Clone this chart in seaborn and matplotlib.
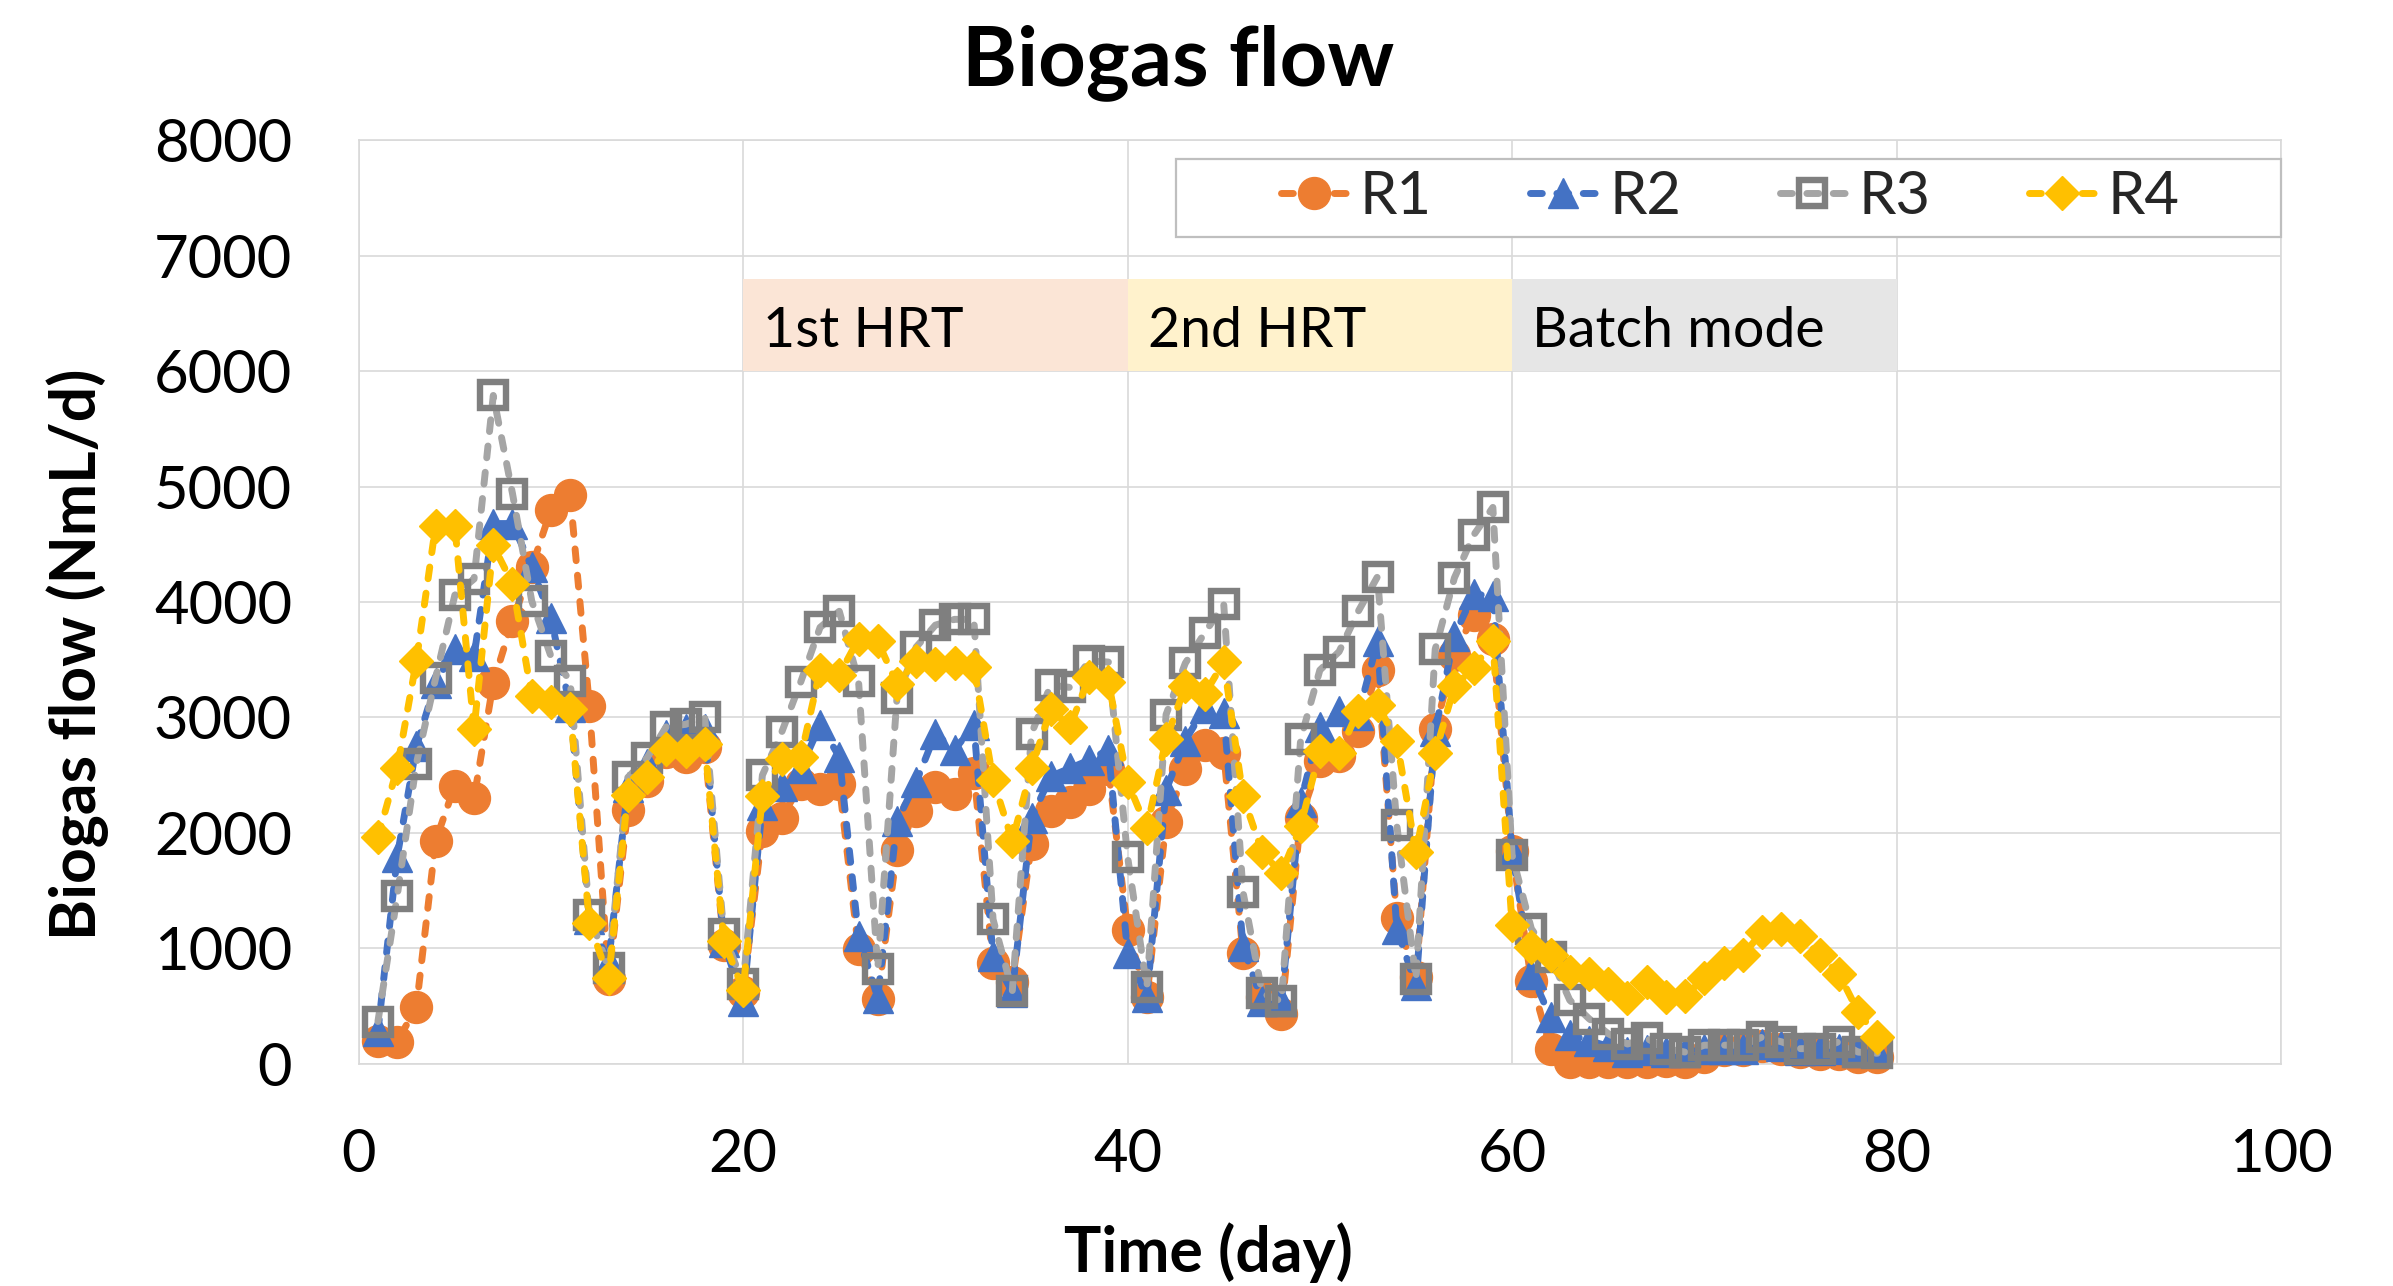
import numpy as np
import pandas as pd
import matplotlib
matplotlib.use("Agg")
import matplotlib.pyplot as plt
from matplotlib.patches import Rectangle
import seaborn as sns

# ---------------- data ----------------
days = list(range(1, 80))

r1 = [200, 190, 490, 1930, 2410, 2300, 3300, 3840, 4300, 4800,
      4930, 3100, 730, 2200, 2450, 2700, 2660, 2740, 1030, 620,
      2020, 2130, 2420, 2380, 2420, 990, 560, 1850, 2190, 2400,
      2340, 2520, 870, 710, 1900, 2190, 2270, 2380, 2550, 1160,
      575, 2090, 2550, 2760, 2690, 960, 575, 430, 2130, 2620,
      2670, 2880, 3410, 1260, 750, 2900, 3540, 3890, 3680, 1840,
      720, 130, 10, 10, 10, 10, 10, 20, 10, 60,
      120, 120, 150, 130, 100, 80, 80, 60, 60]

r2 = [280, 1790, 2750, 3300, 3590, 3530, 4680, 4680, 4300, 3860,
      3090, 1250, 880, 2400, 2600, 2850, 2900, 2900, 1050, 540,
      2240, 2410, 2560, 2935, 2660, 1110, 570, 2100, 2440, 2860,
      2720, 2935, 930, 620, 2130, 2490, 2560, 2630, 2720, 960,
      575, 2370, 2800, 3080, 3040, 1016, 540, 540, 2270, 2920,
      3060, 3025, 3660, 1170, 680, 2880, 3710, 4070, 4050, 1840,
      780, 400, 250, 200, 150, 100, 120, 100, 100, 130,
      130, 130, 170, 150, 120, 120, 130, 100, 100]

r3 = [365, 1450, 2600, 3340, 4060, 4200, 5790, 4940, 4010, 3530,
      3320, 1290, 825, 2480, 2650, 2920, 2940, 3000, 1120, 690,
      2500, 2870, 3310, 3780, 3920, 3320, 820, 3170, 3610, 3800,
      3850, 3850, 1250, 630, 2860, 3280, 3260, 3490, 3480, 1790,
      660, 3025, 3470, 3730, 3980, 1490, 610, 540, 2810, 3410,
      3570, 3920, 4220, 2070, 730, 3590, 4210, 4580, 4820, 1810,
      1170, 925, 550, 390, 260, 170, 220, 130, 100, 160,
      160, 160, 230, 190, 130, 130, 190, 100, 90]

r4 = [1960, 2560, 3490, 4660, 4660, 2900, 4490, 4160, 3190, 3130,
      3070, 1220, 740, 2330, 2480, 2730, 2710, 2770, 1060, 640,
      2320, 2640, 2660, 3410, 3370, 3680, 3660, 3290, 3490, 3460,
      3475, 3440, 2460, 1930, 2560, 3070, 2920, 3350, 3310, 2440,
      2040, 2810, 3270, 3200, 3480, 2320, 1830, 1650, 2060, 2710,
      2690, 3060, 3110, 2800, 1830, 2690, 3270, 3430, 3660, 1200,
      1010, 940, 795, 780, 690, 565, 710, 580, 590, 740,
      870, 940, 1140, 1170, 1110, 940, 780, 450, 230]

series_names = ["R1", "R2", "R3", "R4"]
series_values = [r1, r2, r3, r4]

phase_labels = ["1st HRT", "2nd HRT", "Batch mode"]
phase_starts = [20, 40, 60]
phase_ends = [40, 60, 80]

x_ticks = [0, 20, 40, 60, 80, 100]
y_ticks = [0, 1000, 2000, 3000, 4000, 5000, 6000, 7000, 8000]

# ---------------- style ----------------
sns.set_theme(style="white")
plt.rcParams["font.family"] = ["Lato", "DejaVu Sans"]

line_colors = ["#ED7D31", "#4472C4", "#A5A5A5", "#FFC000"]
edge_colors = ["#ED7D31", "#4472C4", "#7F7F7F", "#FFC000"]
face_colors = ["#ED7D31", "#4472C4", "none", "#FFC000"]
markers = ["o", "^", "s", "D"]
msizes = [23, 22, 19, 17]
mews = [1.0, 1.0, 4.6, 1.0]
phase_colors = ["#FBE5D6", "#FFF2CC", "#E6E6E6"]
grid_color = "#D9D9D9"
LW = 5.0

fig = plt.figure(figsize=(23.93, 12.86), dpi=100)
ax = fig.add_axes([0.1499, 0.1729, 0.8033, 0.7179])

df = pd.DataFrame({"day": days})
for name, vals in zip(series_names, series_values):
    df[name] = vals

handles = []
for i, name in enumerate(series_names):
    sns.lineplot(data=df, x="day", y=name, ax=ax, errorbar=None,
                 color=line_colors[i],
                 marker=markers[i], markersize=msizes[i],
                 markerfacecolor=face_colors[i], markeredgecolor=edge_colors[i],
                 markeredgewidth=mews[i], label=name, clip_on=False,
                 zorder=3 + i)
    ln = ax.lines[-1]
    ln.set_linewidth(LW)
    ln.set_linestyle((0, (1.7, 2.1)))
    ln.set_dash_capstyle("round")
    handles.append(ln)

# phase bands
for lab, s, e, c in zip(phase_labels, phase_starts, phase_ends, phase_colors):
    ax.fill_between([s, e], 6000, 6800, color=c, linewidth=0, zorder=1)
    ax.annotate(lab, xy=(s, 6210), xytext=(14.5, 0), textcoords="offset points",
                ha="left", va="baseline", fontsize=40, color="black", zorder=2)

ax.set_xlim(0, 100)
ax.set_ylim(0, 8000)
ax.set_xticks(x_ticks)
ax.set_yticks(y_ticks)
ax.set_axisbelow(True)
ax.grid(True, color=grid_color, linewidth=1.2)
for sp in ax.spines.values():
    sp.set_color(grid_color)
    sp.set_linewidth(1.2)
ax.tick_params(axis="both", length=0, labelsize=43, colors="black")
ax.tick_params(axis="y", pad=48)
ax.tick_params(axis="x", pad=46)

ax.set_xlabel("Time (day)", fontsize=45, fontweight="bold", color="black")
ax.set_ylabel("Biogas flow (NmL/d)", fontsize=45, fontweight="bold", color="black")
ax.xaxis.label.set_verticalalignment("baseline")
ax.xaxis.set_label_coords(0.442, -0.2257)
ax.yaxis.label.set_verticalalignment("center")
ax.yaxis.set_label_coords(-0.146, 0.4437)

fig.text(0.4923, 0.934, "Biogas flow", ha="center", va="baseline",
         fontsize=60, fontweight="bold", color="black")

# legend
frame = Rectangle((0.425, 0.895), 0.575, 0.0845, transform=ax.transAxes,
                  facecolor="white", edgecolor="#BFBFBF", linewidth=1.6,
                  zorder=8, clip_on=False)
ax.add_patch(frame)
leg = ax.legend(handles=handles, labels=series_names, ncol=4, frameon=False,
                loc="center left", bbox_to_anchor=(0.4797, 0.939),
                borderaxespad=0, borderpad=0, fontsize=43,
                handlelength=1.1, handletextpad=0.22, columnspacing=1.65)
leg.set_zorder(9)

fig.savefig("out.png", dpi=100, facecolor="white")
